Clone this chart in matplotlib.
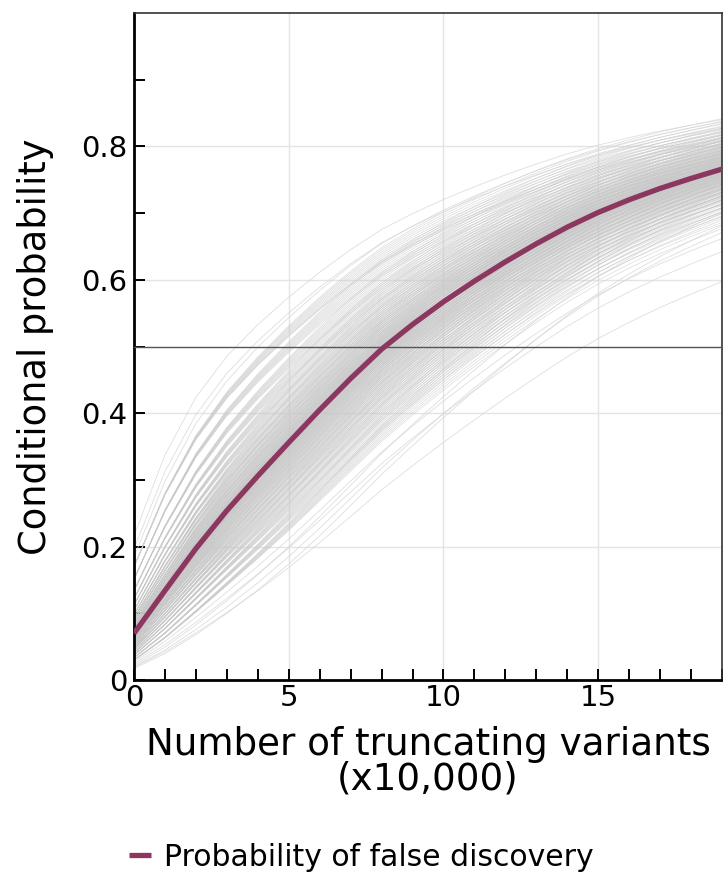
import numpy as np
import matplotlib
matplotlib.use("Agg")
import matplotlib.pyplot as plt
from matplotlib.ticker import MultipleLocator, FixedLocator, FuncFormatter

# ---- data ----
x_vals = [0, 1, 2, 3, 4, 5, 6, 7, 8, 9, 10, 11, 12, 13, 14, 15, 16, 17, 18, 19]
p_false = [0.070, 0.134, 0.197, 0.254, 0.306, 0.356, 0.405, 0.452, 0.496, 0.533,
           0.567, 0.598, 0.627, 0.654, 0.679, 0.701, 0.720, 0.737, 0.752, 0.766]
# spread of the gray sample curves (logit units relative to the main curve)
core_levels = [-0.90, -0.78, -0.67, -0.58, -0.50, -0.43, -0.37, -0.31, -0.26, -0.21,
               -0.17, -0.13, -0.09, -0.06, -0.03, 0.00, 0.03, 0.06, 0.09, 0.13,
               0.17, 0.21, 0.26, 0.31, 0.37, 0.44, 0.52, 0.61, 0.72, 0.86, 1.00]
core_tilts = [-0.12, -0.09, -0.06, -0.03, 0.00, 0.03, 0.06, 0.09, 0.12]
outlier_levels = [1.30, 1.18, 1.10, 1.00, -1.30, -1.10, -1.35, -1.00, -1.20, -1.45]
outlier_tilts = [0.00, -0.05, 0.05, -0.10, 0.00, -0.20, -0.30, -0.15, 0.10, 0.10]
x_ticks = [0, 5, 10, 15]
y_ticks = [0, 0.2, 0.4, 0.6, 0.8]
legend_label = "Probability of false discovery"

x = np.array(x_vals, dtype=float)
p = np.array(p_false)
L = np.log(p / (1 - p))

fig = plt.figure(figsize=(7.23, 8.73), dpi=100)
ax = fig.add_axes([134 / 723, 1 - 680 / 873, (722 - 134) / 723, (680 - 13) / 873])

shrink = 1.0 / (1.0 + 0.092 * x)
frac = x / 19.0


def sample_curve(s, t):
    off = s * shrink + t * frac
    return 1 / (1 + np.exp(-(L + off)))


for s in core_levels:
    for t in core_tilts:
        ax.plot(x, sample_curve(s, t), color="#c8c8c8", lw=0.5, alpha=0.65, zorder=2,
                solid_joinstyle="round")
for s, t in zip(outlier_levels, outlier_tilts):
    ax.plot(x, sample_curve(s, t), color="#d6d6d6", lw=0.6, alpha=0.8, zorder=2,
            solid_joinstyle="round")

ax.axhline(0.5, color="#555555", lw=1.0, zorder=3)
ax.plot(x, p, color="#8c375f", lw=3.8, zorder=4, label=legend_label,
        solid_capstyle="butt", solid_joinstyle="round")

ax.set_xlim(0, 19)
ax.set_ylim(0, 1)
ax.xaxis.set_major_locator(FixedLocator(x_ticks))
ax.xaxis.set_minor_locator(MultipleLocator(1))
ax.yaxis.set_major_locator(FixedLocator(y_ticks))
ax.yaxis.set_minor_locator(FixedLocator([0.1, 0.3, 0.5, 0.7, 0.9]))
ax.yaxis.set_major_formatter(FuncFormatter(lambda v, pos: "0" if v == 0 else f"{v:.1f}"))
ax.tick_params(which="both", direction="in", length=8, width=1.4, color="black",
               labelsize=21)
ax.tick_params(axis="x", which="major", pad=3)
ax.tick_params(axis="y", which="major", pad=5)
ax.grid(True, which="major", color="#e4e4e4", lw=1.0, zorder=0)
ax.set_axisbelow(True)

for side in ["left", "bottom"]:
    ax.spines[side].set_linewidth(2.0)
    ax.spines[side].set_color("black")
for side in ["top", "right"]:
    ax.spines[side].set_linewidth(1.2)
    ax.spines[side].set_color("#333333")

ax.set_xlabel("Number of truncating variants\n(x10,000)", fontsize=26.8, linespacing=0.92,
              labelpad=10)
ax.set_ylabel("Conditional probability", fontsize=26.5, labelpad=19)

fig.legend(loc="center", bbox_to_anchor=(0.5, 1 - 857 / 873), frameon=False,
           fontsize=21.5, handlelength=0.72, handletextpad=0.45)

fig.savefig("out.png", dpi=100)
